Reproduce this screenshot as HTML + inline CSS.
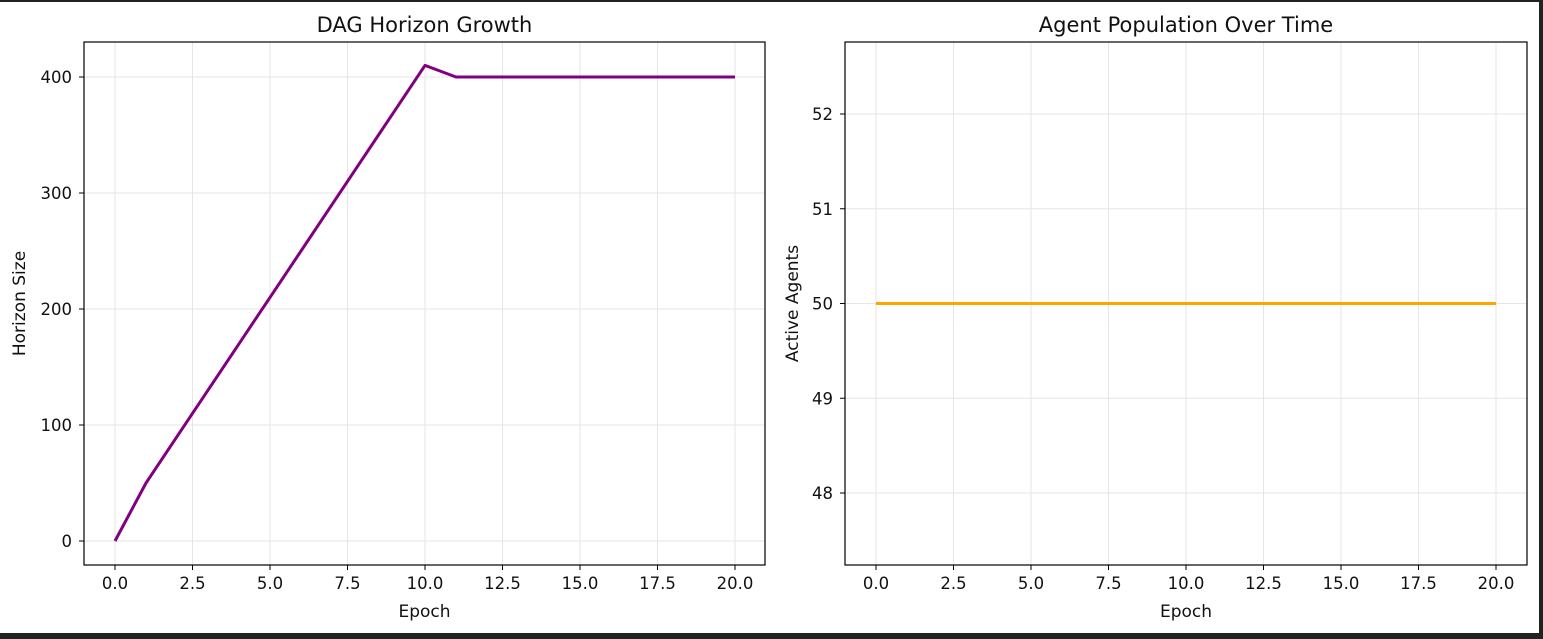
<!DOCTYPE html>
<html><head><meta charset="utf-8"><style>
body{margin:0;background:#222;}
#wrap{position:absolute;left:0;top:2px;width:1539px;height:631px;background:#fff;}
svg text{font-family:"DejaVu Sans","Liberation Sans",sans-serif;fill:#111;}
</style></head><body>
<div id="wrap"></div>
<svg id="s" width="1543" height="639" style="position:absolute;left:0;top:0"></svg>
<script>
const epochs=[0,1,2,3,4,5,6,7,8,9,10,11,12,13,14,15,16,17,18,19,20];
const horizon=[0,50,90,130,170,210,250,290,330,370,410,400,400,400,400,400,400,400,400,400,400];
const agents=[50,50,50,50,50,50,50,50,50,50,50,50,50,50,50,50,50,50,50,50,50];
const xTicks=[0,2.5,5,7.5,10,12.5,15,17.5,20];
const yTicksL=[0,100,200,300,400];
const yTicksR=[48,49,50,51,52];
const NS="http://www.w3.org/2000/svg";
const svg=document.getElementById('s');
function el(t,a,txt){const e=document.createElementNS(NS,t);for(const k in a)e.setAttribute(k,a[k]);if(txt!==undefined)e.textContent=txt;svg.appendChild(e);return e;}
function panel(p){
 const {x0,x1,y0,y1,sx,sy,yt,yfmt,xs,ys,color,title,ylab,name}=p;
 for(const t of xTicks){const x=sx(t);
  const g=el('line',{x1:x,x2:x,y1:y0,y2:y1,stroke:'#e6e6e6','stroke-width':1});
  
  el('line',{x1:x,x2:x,y1:y1,y2:y1+5,stroke:'#000'});
  const l=el('text',{x:x,y:y1+24,'font-size':16.5,'text-anchor':'middle'},t.toFixed(1));
  }
 for(const t of yt){const y=sy(t);
  const g=el('line',{x1:x0,x2:x1,y1:y,y2:y,stroke:'#e6e6e6','stroke-width':1});
  
  el('line',{x1:x0-5,x2:x0,y1:y,y2:y,stroke:'#000'});
  const l=el('text',{x:x0-12,y:y+6,'font-size':16.5,'text-anchor':'end'},yfmt(t));
  }
 const pts=xs.map((v,i)=>sx(v)+','+sy(ys[i])).join(' ');
 const ln=el('polyline',{points:pts,fill:'none',stroke:color,'stroke-width':3,'stroke-linejoin':'round'});
 
 const r=el('rect',{x:x0,y:y0,width:x1-x0,height:y1-y0,fill:'none',stroke:'#000','stroke-width':1.2});
 
 const tt=el('text',{x:(x0+x1)/2,y:y0-10,'font-size':21,'text-anchor':'middle'},title);
 
 const xl=el('text',{x:(x0+x1)/2,y:y1+52,'font-size':17,'text-anchor':'middle'},'Epoch');
 
 const cy=(y0+y1)/2;
 const yl=el('text',{x:p.ylx,y:cy,'font-size':17,'text-anchor':'middle',transform:`rotate(-90 ${p.ylx} ${cy})`},ylab);
 
}
panel({name:'horizon',x0:84,x1:765,y0:42,y1:565,sx:v=>115+v*31,sy:v=>541-v*1.16,yt:yTicksL,yfmt:t=>String(t),
 xs:epochs,ys:horizon,color:'#800080',title:'DAG Horizon Growth',ylab:'Horizon Size',ylx:25});
panel({name:'agents',x0:845,x1:1527,y0:42,y1:565,sx:v=>876+v*31,sy:v=>303.5-(v-50)*94.75,yt:yTicksR,yfmt:t=>String(t),
 xs:epochs,ys:agents,color:'#ffa500',title:'Agent Population Over Time',ylab:'Active Agents',ylx:798});
</script>
</body></html>
